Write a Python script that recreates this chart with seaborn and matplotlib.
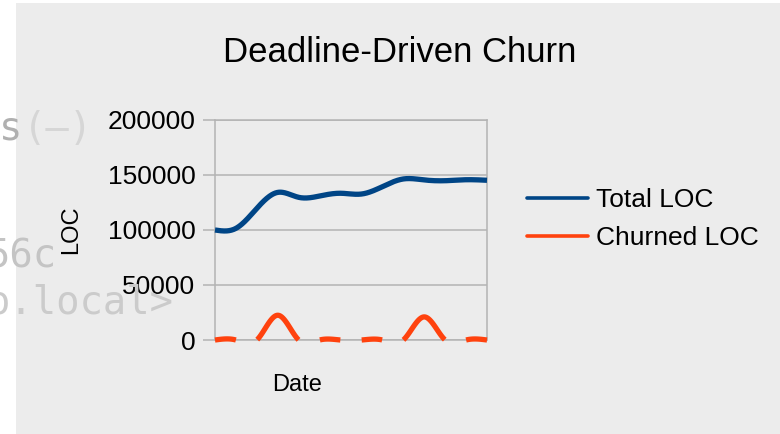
#!/usr/bin/env python3
"""
Deadline-Driven Churn: total vs churned lines of code over time.

Writes out.png (780x434).
"""

import numpy as np
import pandas as pd
import seaborn as sns
import matplotlib.pyplot as plt
from matplotlib.lines import Line2D
from matplotlib.patches import Rectangle


# one sample per date (category positions 0..13)
dates = list(range(14))
total_loc = [100000, 101500, 119700, 134200, 129700, 130900, 133400,
             132700, 139400, 146400, 145500, 144800, 145700, 145200]
churned_loc = [0, 0, 0, 22500, 0, 0, 0, 0, 0, 0, 21000, 0, 0, 0]

series_names = ["Total LOC", "Churned LOC"]
series_colors = ["#004586", "#ff420e"]
y_ticks = [0, 50000, 100000, 150000, 200000]

BG = "#ececec"
GRID = "#b3b3b3"


def natural_spline(x, y, n=600):
    # smoothed line rendering, like the spreadsheet's "cubic spline" line type
    x = np.asarray(x, float)
    y = np.asarray(y, float)
    k = len(x)
    h = np.diff(x)
    A = np.zeros((k, k))
    r = np.zeros(k)
    A[0, 0] = A[-1, -1] = 1
    for i in range(1, k - 1):
        A[i, i - 1] = h[i - 1]
        A[i, i] = 2 * (h[i - 1] + h[i])
        A[i, i + 1] = h[i]
        r[i] = 6 * ((y[i + 1] - y[i]) / h[i] - (y[i] - y[i - 1]) / h[i - 1])
    m = np.linalg.solve(A, r)
    xs = np.linspace(x[0], x[-1], n)
    idx = np.clip(np.searchsorted(x, xs) - 1, 0, k - 2)
    x0, x1 = x[idx], x[idx + 1]
    hh = x1 - x0
    a = (x1 - xs) / hh
    b = (xs - x0) / hh
    ys = (a * y[idx] + b * y[idx + 1]
          + ((a ** 3 - a) * m[idx] + (b ** 3 - b) * m[idx + 1]) * hh ** 2 / 6)
    return xs, ys


def curve_frame(x, y):
    xs, ys = natural_spline(x, y)
    # the chart only shows the curve where it is above the zero line
    keep = ys >= 0
    seg = np.cumsum(np.r_[True, keep[1:] != keep[:-1]])
    df = pd.DataFrame({"x": xs, "y": ys, "seg": seg})
    return df[keep]


def main():
    sns.set_theme(style="whitegrid")
    plt.rcParams["font.family"] = ["Liberation Sans", "DejaVu Sans"]
    plt.rcParams["text.color"] = "black"
    plt.rcParams["axes.labelcolor"] = "black"
    plt.rcParams["ytick.labelcolor"] = "black"

    fig = plt.figure(figsize=(7.8, 4.34), dpi=100)
    fig.patch.set_facecolor("white")
    fig.add_artist(Rectangle((16 / 780, 0), 1, 431 / 434, transform=fig.transFigure,
                             facecolor=BG, edgecolor="none", zorder=-10))

    # faint terminal text showing through behind the chart window
    mono = dict(family="DejaVu Sans Mono", fontsize=28)
    fig.text(-1 / 780, 1 - 140 / 434, "s", color="#b0b0b0", **mono)
    fig.text(22.4 / 780, 1 - 140 / 434, "(–)", color="#d6d6d6", **mono)
    fig.text(-14 / 780, 1 - 268 / 434, "56c", color="#c4c4c4", **mono)
    fig.text(-14 / 780, 1 - 314 / 434, "o.local>", color="#cbcbcb", **mono)

    ax = fig.add_axes([215 / 780, 94 / 434, 272 / 780, 220 / 434])
    ax.set_facecolor(BG)

    sns.lineplot(data=curve_frame(dates, total_loc), x="x", y="y", units="seg",
                 estimator=None, color=series_colors[0], lw=3.8, ax=ax)
    sns.lineplot(data=curve_frame(dates, churned_loc), x="x", y="y", units="seg",
                 estimator=None, color=series_colors[1], lw=3.8, ax=ax)
    for line in ax.lines:
        line.set_clip_on(False)
        line.set_solid_capstyle("butt")
        line.set_zorder(3)

    ax.set_xlim(dates[0], dates[-1])
    ax.set_ylim(y_ticks[0], y_ticks[-1])
    ax.set_xticks([])
    ax.set_yticks(y_ticks)
    ax.set_yticklabels([str(t) for t in y_ticks])
    ax.tick_params(axis="y", length=8.6, width=1.1, color=GRID, pad=5.5,
                   labelsize=19, labelcolor="black", left=True, direction="out")
    ax.grid(axis="y", color=GRID, lw=1.1)
    ax.grid(axis="x", visible=False)
    for sp in ax.spines.values():
        sp.set_visible(True)
        sp.set_color(GRID)
        sp.set_linewidth(1.1)

    ax.set_xlabel("Date", fontsize=17, color="black")
    ax.set_ylabel("LOC", fontsize=17, color="black")
    ax.xaxis.set_label_coords(0.30, -0.155)
    ax.yaxis.set_label_coords(-0.487, 0.5)

    fig.text(400 / 780, 1 - 52 / 434, "Deadline-Driven Churn", fontsize=25,
             ha="center", va="center", color="black")

    handles = [Line2D([], [], color=c, lw=2.6) for c in series_colors]
    leg = fig.legend(handles, series_names, loc="center left",
                     bbox_to_anchor=(527 / 780, 1 - 219 / 434), frameon=False,
                     fontsize=19, borderpad=0, borderaxespad=0, handlelength=2.3,
                     handletextpad=0.32, labelspacing=0.52)
    for t in leg.get_texts():
        t.set_color("black")

    fig.savefig("out.png", dpi=100, facecolor=fig.get_facecolor())
    plt.close(fig)


if __name__ == "__main__":
    main()
